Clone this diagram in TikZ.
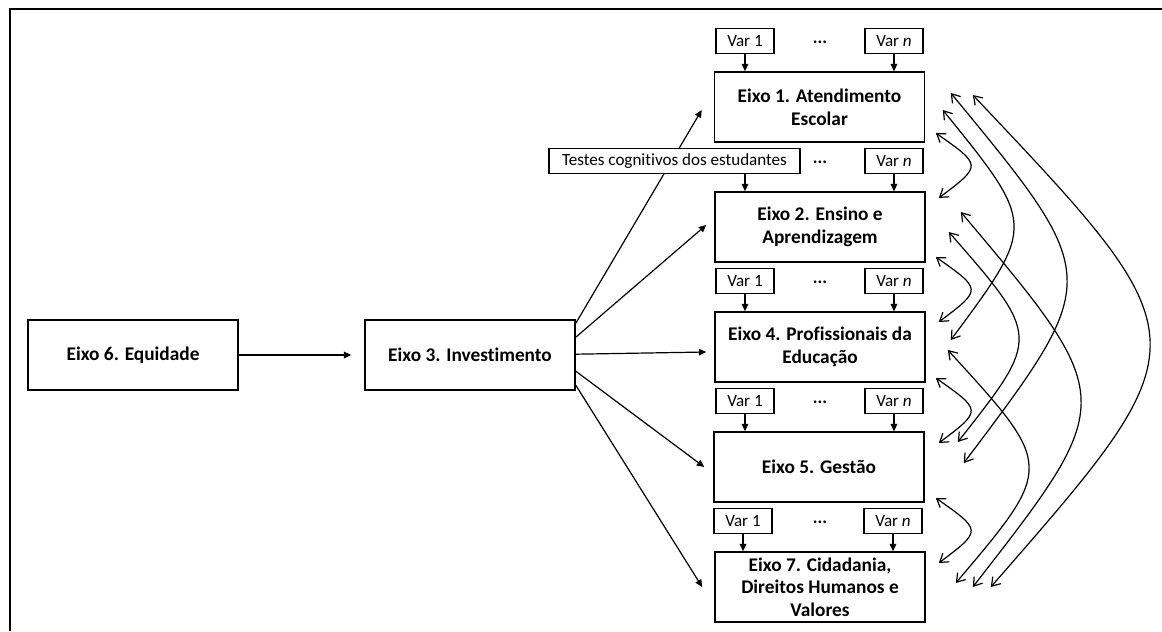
\documentclass[tikz,border=0pt]{standalone}
\usepackage{fontspec}
\setmainfont{Carlito}[Ligatures=NoCommon]
\usetikzlibrary{arrows.meta,calc,backgrounds}
\begin{document}
\begin{tikzpicture}[x=0.75pt,y=-0.75pt,
  eixo/.style={draw, line width=1.2pt, minimum width=157.5pt, minimum height=52.5pt, inner sep=2pt, align=center, fill=white, font=\bfseries\fontsize{14.5}{17}\selectfont},
  varbox/.style={draw, line width=1pt, minimum width=43.5pt, minimum height=18.75pt, inner sep=1pt, fill=white, font=\fontsize{12.8}{15}\selectfont},
  dotsnode/.style={inner sep=0pt, font=\fontsize{14}{16}\selectfont},
  arr/.style={line width=0.9pt, -{Triangle[length=5.5pt,width=5pt]}},
  dbl/.style={line width=0.9pt, {Straight Barb[length=6pt,width=8pt]}-{Straight Barb[length=6pt,width=8pt]}}
]
\useasboundingbox (0,0) rectangle (1162,631);
\coordinate (fa) at (9.5,631);
\coordinate (fb) at (9.5,9.5);
\coordinate (fc) at (1162,9.5);
\draw[line width=1.5pt] (fa) -- (fb) -- (fc);

% main boxes
\node[eixo] (e6) at (133,355) {Eixo 6. Equidade};
\node[eixo] (e3) at (470,355) {Eixo 3. Investimento};
\node[eixo] (e1) at (819.5,107) {Eixo 1. Atendimento\\Escolar};
\node[eixo] (e2) at (820,227) {Eixo 2. Ensino e\\Aprendizagem};
\node[eixo] (e4) at (820,347) {Eixo 4. Profissionais da\\Educação};
\node[eixo] (e5) at (819,467) {Eixo 5. Gestão};
\node[eixo] (e7) at (820,587) {Eixo 7. Cidadania,\\Direitos Humanos e\\Valores};

% variable boxes
\node[varbox] (v11) at (745,41) {Var 1};
\node[varbox] (vn1) at (894,41) {Var \textit{n}};
\node[dotsnode] (d1) at (820,44) {···};
\node[varbox, minimum width=188.25pt] (vt2) at (674.5,161) {Testes cognitivos dos estudantes};
\node[varbox] (vn2) at (894,161) {Var \textit{n}};
\node[dotsnode] (d2) at (820,164) {···};
\node[varbox] (v14) at (745,281) {Var 1};
\node[varbox] (vn4) at (894,281) {Var \textit{n}};
\node[dotsnode] (d4) at (820,284) {···};
\node[varbox] (v15) at (745,401) {Var 1};
\node[varbox] (vn5) at (894,401) {Var \textit{n}};
\node[dotsnode] (d5) at (820,404) {···};
\node[varbox] (v17) at (743,521) {Var 1};
\node[varbox] (vn7) at (893,521) {Var \textit{n}};
\node[dotsnode] (d7) at (820,524) {···};

% var arrows
\draw[arr] (v11.south) -- (v11.south |- e1.north);
\draw[arr] (vn1.south) -- (vn1.south |- e1.north);
\draw[arr] (vt2.south -| v14.south) -- (v14.south |- e2.north);
\draw[arr] (vn2.south) -- (vn2.south |- e2.north);
\draw[arr] (v14.south) -- (v14.south |- e4.north);
\draw[arr] (vn4.south) -- (vn4.south |- e4.north);
\draw[arr] (v15.south) -- (v15.south |- e5.north);
\draw[arr] (vn5.south) -- (vn5.south |- e5.north);
\draw[arr] (v17.south) -- (v17.south |- e7.north);
\draw[arr] (vn7.south) -- (vn7.south |- e7.north);

% main flow arrows
\draw[arr] (e6.east) -- ($(e6.east -| e3.west)+(-13,0)$);
\begin{pgfonlayer}{background}
\fill[white] (0,0) rectangle (1162,631);
\draw[arr] ($(e3.north east)+(0,4)$) -- ($(e1.west)+(-12,3)$);
\end{pgfonlayer}
\draw[arr] ($(e3.north east)+(0,18)$) -- ($(e2.west)+(-8,-2)$);
\draw[arr] ($(e3.north east)+(0,35)$) -- ($(e4.west)+(-8,5)$);
\draw[arr] ($(e3.north east)+(0,52)$) -- ($(e5.west)+(-9,0)$);
\draw[arr] ($(e3.north east)+(0,66)$) -- ($(e7.west)+(-12,0)$);

% tip coordinates
\coordinate (t1a) at ($(e1.east)+(10.5,26)$);
\coordinate (t1b) at ($(e1.east)+(17.5,3)$);
\coordinate (t1c) at ($(e1.east)+(25.5,-14)$);
\coordinate (t1d) at ($(e1.east)+(47.5,-12)$);
\coordinate (t2a) at ($(e2.east)+(13,-29)$);
\coordinate (t2b) at ($(e2.east)+(10,30)$);
\coordinate (t2c) at ($(e2.east)+(23,5)$);
\coordinate (t2d) at ($(e2.east)+(35,-15)$);
\coordinate (t4a) at ($(e4.east)+(13,-25)$);
\coordinate (t4b) at ($(e4.east)+(25,-7)$);
\coordinate (t4c) at ($(e4.east)+(22,3)$);
\coordinate (t4d) at ($(e4.east)+(10,31)$);
\coordinate (t5a) at ($(e5.east)+(14,-24)$);
\coordinate (t5b) at ($(e5.east)+(33,-25)$);
\coordinate (t5c) at ($(e5.east)+(39,-4)$);
\coordinate (t5d) at ($(e5.east)+(11,31)$);
\coordinate (t7a) at ($(e7.east)+(13,-24)$);
\coordinate (t7b) at ($(e7.east)+(30,-4)$);
\coordinate (t7c) at ($(e7.east)+(47,0)$);
\coordinate (t7d) at ($(e7.east)+(65,0)$);

% correlation curves
\draw[dbl] (t1a) .. controls ($(t1a)!.5!(t2a)+(44.7,0)$) .. (t2a);
\draw[dbl] (t2b) .. controls ($(t2b)!.5!(t4a)+(44.7,0)$) .. (t4a);
\draw[dbl] (t4d) .. controls ($(t4d)!.5!(t5a)+(44.7,0)$) .. (t5a);
\draw[dbl] (t5d) .. controls ($(t5d)!.5!(t7a)+(44.7,0)$) .. (t7a);
\draw[dbl] (t1b) .. controls ($(t1b)!.5!(t4b)+(89.3,0)$) .. (t4b);
\draw[dbl] (t1c) .. controls ($(t1c)!.5!(t5c)+(146,0)$) .. (t5c);
\draw[dbl] (t1d) .. controls ($(t1d)!.5!(t7d)+(224,0)$) .. (t7d);
\draw[dbl] (t2c) .. controls ($(t2c)!.5!(t5b)+(87.3,0)$) .. (t5b);
\draw[dbl] (t2d) .. controls ($(t2d)!.5!(t7c)+(152,0)$) .. (t7c);
\draw[dbl] (t4c) .. controls ($(t4c)!.5!(t7b)+(102.7,0)$) .. (t7b);
\end{tikzpicture}
\end{document}
